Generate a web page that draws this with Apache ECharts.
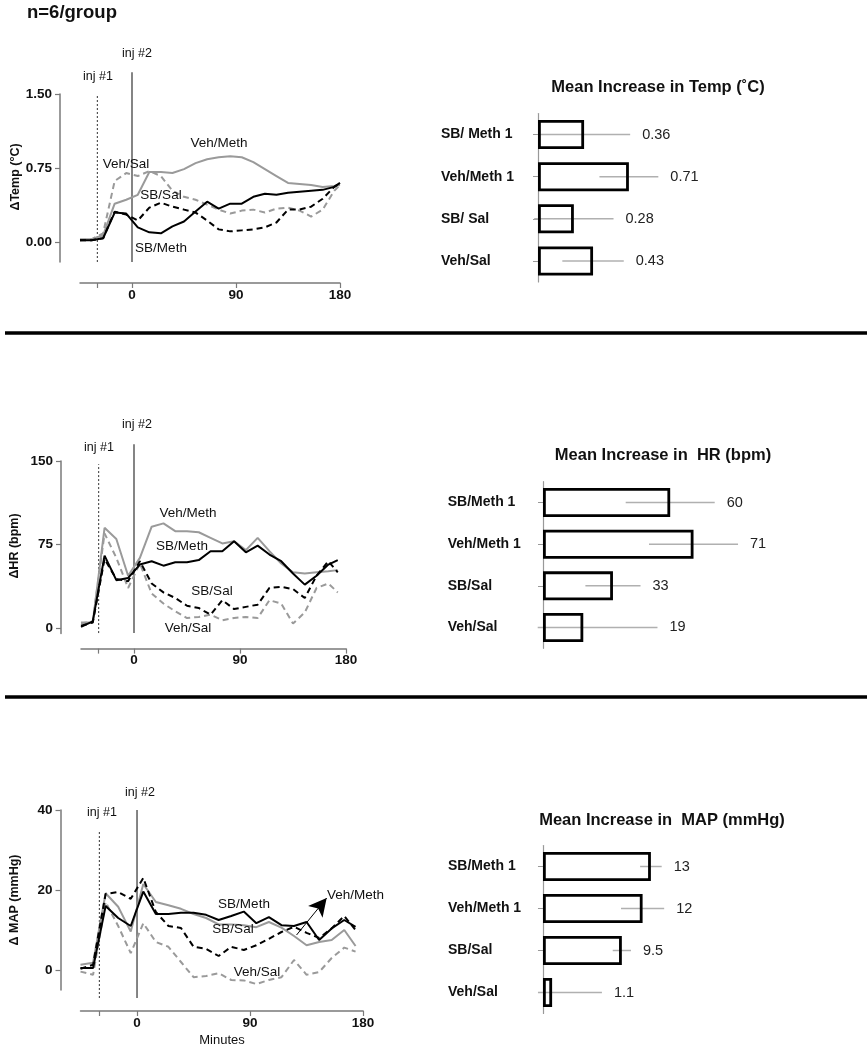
<!DOCTYPE html>
<html><head><meta charset="utf-8">
<script src="https://cdn.jsdelivr.net/npm/echarts@6/dist/echarts.min.js"></script>
<style>html,body{margin:0;padding:0;background:#fff}#c{width:867px;height:1050px}</style>
</head><body><div id="c"></div>
<script>
// ---------------- DATA ----------------
const tempTimes = [-45,-35,-25,-15,-5,5,15,25,35,45,55,65,75,85,95,105,115,125,135,145,155,165,175,180];
const tempSBMeth  = [0.02,0.02,0.04,0.30,0.29,0.15,0.10,0.09,0.16,0.21,0.31,0.41,0.34,0.39,0.39,0.46,0.49,0.48,0.50,0.51,0.52,0.53,0.56,0.60];
const tempVehMeth = [0.03,0.03,0.07,0.39,0.43,0.48,0.71,0.71,0.70,0.74,0.80,0.84,0.86,0.87,0.86,0.81,0.74,0.67,0.60,0.59,0.58,0.56,0.57,0.58];
const tempVehSal  = [0.02,0.03,0.09,0.62,0.70,0.67,0.72,0.67,0.52,0.46,0.43,0.38,0.33,0.29,0.32,0.33,0.30,0.34,0.35,0.32,0.26,0.33,0.52,0.58];
const tempSBSal   = [0.02,0.02,0.04,0.31,0.28,0.22,0.35,0.40,0.36,0.33,0.30,0.22,0.13,0.11,0.12,0.13,0.15,0.20,0.33,0.33,0.36,0.44,0.56,0.60];

const hrTimes = [-45,-35,-25,-15,-5,5,15,25,35,45,55,65,75,85,95,105,115,125,135,145,155,165,173];
const hrSBMeth  = [1,6,65,43,45,57,60,56,59,59,61,69,69,78,68,74,66,60,49,39,47,57,61];
const hrVehMeth = [5,5,90,80,47,63,91,94,87,87,86,81,76,78,70,81,69,58,50,49,50,51,52];
const hrVehSal  = [4,6,85,63,36,58,31,22,15,9,10,12,7,9,10,9,25,22,4,14,36,40,32];
const hrSBSal   = [2,5,62,44,42,60,40,32,27,20,18,12,25,17,19,21,36,37,35,27,47,60,50];

const mapTimes = [-45,-35,-25,-15,-5,5,15,25,35,45,55,65,75,85,95,105,115,125,135,145,155,165,174];
const mapSBMeth  = [0.5,0.5,16,13,11,19.6,14,14,14.3,14.3,13.8,12.5,13.5,14.6,11.7,13.2,11.2,11,12,7.5,10.4,12.5,10.8];
const mapSBSal   = [0.3,1.3,19,19.5,17.8,23,14.5,11,10.5,5.8,5.3,3.5,5.8,5,6.2,7.8,9.5,10.8,9.3,8,10.4,13.5,10];
const mapVehMeth = [1.3,1.8,19.2,15.8,9.6,21.5,17,16.2,15.3,14,13,11.4,11.4,11.2,10.7,12,10.6,8.5,6.2,7,7.5,10,6];
const mapVehSal  = [-0.4,-1.2,17,11,4.2,11.7,7,5.8,2,-1.8,-1.5,-0.8,-2.5,-2.6,-3.5,-2.5,-1.8,2.5,-1.2,-0.5,3,5.6,4.6];

const injTimes = [-30, 0];

const tempCats = ['SB/ Meth 1','Veh/Meth 1','SB/ Sal','Veh/Sal'];
const tempMeans = [0.36,0.71,0.28,0.43];
const tempErrs  = [0.36,0.23,0.31,0.24];

const hrCats = ['SB/Meth 1','Veh/Meth 1','SB/Sal','Veh/Sal'];
const hrMeans = [60,71,33,19];
const hrErrs  = [21,21,13,35];

const mapCats = ['SB/Meth 1','Veh/Meth 1','SB/Sal','Veh/Sal'];
const mapMeans = [13,12,9.5,1.1];
const mapErrs  = [1.3,2.6,1.1,6];

const tempYTicks = [0,0.75,1.5];
const hrYTicks = [0,75,150];
const mapYTicks = [0,20,40];
const xTicks = [-30,0,90,180];
const xLabels = [0,90,180];

// annotation arrow (data coords, MAP panel)
const mapArrow = [[127,8.75],[151,18]];

// ---------------- CHART ----------------
const FONT = '"Liberation Sans", Arial, Helvetica, sans-serif';
const zip = (t, v) => t.map((x, i) => [x, v[i]]);
const BLACK = '#000', GREY = '#9a9a9a', AX = '#7a7a7a';

const chart = echarts.init(document.getElementById('c'));

const lineGrids = [
  {left:80, top:94, width:260, height:168},
  {left:81, top:461, width:265, height:172.6},
  {left:80.5, top:810, width:282.6, height:180}
];
const barGrids = [
  {left:532.9, top:113.5, width:133.1, height:168.5},
  {left:537.7, top:481.7, width:217.3, height:166.6},
  {left:538.0, top:845.5, width:171, height:168}
];

const yRanges = [[-0.2,1.5],[-5,150],[-5,40]];
const yTickSets = [tempYTicks, hrYTicks, mapYTicks];
const yFmt = [v => v.toFixed(2), v => String(v), v => String(v)];
const xOffsets = [21, 15, 21];

const xAxes = [], yAxes = [], series = [];

for (let i = 0; i < 3; i++) {
  xAxes.push({
    type:'value', gridIndex:i, min:-45, max:180, offset:xOffsets[i],
    axisLine:{show:true, onZero:false, lineStyle:{color:AX, width:1.5}},
    axisTick:{show:true, customValues:xTicks, length:5, lineStyle:{color:AX, width:1.2}},
    axisLabel:{customValues:xLabels, fontFamily:FONT, fontWeight:'bold', fontSize:13.5, color:'#111', margin:5},
    splitLine:{show:false}
  });
  yAxes.push({
    type:'value', gridIndex:i, min:yRanges[i][0], max:yRanges[i][1], offset:20,
    axisLine:{show:true, onZero:false, lineStyle:{color:AX, width:1.5}},
    axisTick:{show:true, customValues:yTickSets[i], length:5, lineStyle:{color:AX, width:1.2}},
    axisLabel:{customValues:yTickSets[i], formatter:yFmt[i], fontFamily:FONT, fontWeight:'bold', fontSize:13.5, color:'#111', margin:8},
    splitLine:{show:false}
  });
}

const barRanges = [[-0.04,1.0],[-2.5,100],[-0.6,20]];
const barCats = [tempCats, hrCats, mapCats];
const barMeans = [tempMeans, hrMeans, mapMeans];
const barErrs = [tempErrs, hrErrs, mapErrs];
const labelMargins = [92, 90, 90];

for (let j = 0; j < 3; j++) {
  const gi = 3 + j;
  xAxes.push({type:'value', gridIndex:gi, min:barRanges[j][0], max:barRanges[j][1], show:false});
  yAxes.push({
    type:'category', gridIndex:gi, data:barCats[j], inverse:true,
    axisLine:{show:true, onZero:true, lineStyle:{color:'#999', width:1.2}},
    axisTick:{show:true, alignWithLabel:true, length:5, lineStyle:{color:'#999'}},
    axisLabel:{align:'left', margin:labelMargins[j], fontFamily:FONT, fontWeight:'bold', fontSize:14, color:'#111'}
  });
}

function addLines(gi, times, sbMeth, vehMeth, vehSal, sbSal) {
  series.push({type:'line', xAxisIndex:gi, yAxisIndex:gi, data:zip(times, vehMeth), symbol:'none', lineStyle:{color:GREY, width:2}, z:3});
  series.push({type:'line', xAxisIndex:gi, yAxisIndex:gi, data:zip(times, vehSal), symbol:'none', lineStyle:{color:GREY, width:2, type:[6,4]}, z:3});
  series.push({type:'line', xAxisIndex:gi, yAxisIndex:gi, data:zip(times, sbSal), symbol:'none', lineStyle:{color:BLACK, width:2, type:[6,4]}, z:4});
  series.push({type:'line', xAxisIndex:gi, yAxisIndex:gi, data:zip(times, sbMeth), symbol:'none', lineStyle:{color:BLACK, width:2}, z:5});
}
addLines(0, tempTimes, tempSBMeth, tempVehMeth, tempVehSal, tempSBSal);
addLines(1, hrTimes, hrSBMeth, hrVehMeth, hrVehSal, hrSBSal);
addLines(2, mapTimes, mapSBMeth, mapVehMeth, mapVehSal, mapSBSal);

// injection marker extents per panel: [bottom, top inj1, top inj2]
const injExtents = [[-0.2,1.49,1.72],[-4.5,147,165],[-7,35,40]];
for (let i = 0; i < 3; i++) {
  const e = injExtents[i];
  series.push({type:'line', xAxisIndex:i, yAxisIndex:i, clip:false, symbol:'none', silent:true,
    data:[[injTimes[0], e[0]],[injTimes[0], e[1]]], lineStyle:{color:'#333', width:1, type:[2,2]}, z:2});
  series.push({type:'line', xAxisIndex:i, yAxisIndex:i, clip:false, symbol:'none', silent:true,
    data:[[injTimes[1], e[0]],[injTimes[1], e[2]]], lineStyle:{color:'#333', width:1.2}, z:2});
}

series.push({type:'line', xAxisIndex:2, yAxisIndex:2, data:[], symbol:'none',
  markLine:{silent:true, animation:false, symbol:['none','arrow'], symbolSize:[14,18],
    lineStyle:{color:'#000', width:1, type:'solid'}, label:{show:false},
    data:[[{coord:mapArrow[0]},{coord:mapArrow[1]}]]}});

for (let j = 0; j < 3; j++) {
  const gi = 3 + j;
  const minV = barRanges[j][0];
  series.push({type:'custom', xAxisIndex:gi, yAxisIndex:gi, z:1,
    data: barMeans[j].map((m, k) => [m, k, barErrs[j][k]]),
    renderItem: function(params, api) {
      const m = api.value(0), k = api.value(1), e = api.value(2);
      const lo = Math.max(m - e, minV), hi = m + e;
      const p1 = api.coord([lo, k]), p2 = api.coord([hi, k]);
      return {type:'group', children:[
        {type:'line', shape:{x1:p1[0], y1:p1[1], x2:p2[0], y2:p2[1]}, style:{stroke:'#b0b0b0', lineWidth:1.5}},
        {type:'text', x:p2[0] + 12, y:p1[1], style:{text:String(m), fill:'#222', font:'14.5px ' + FONT,
          textAlign:'left', align:'left', textVerticalAlign:'middle', verticalAlign:'middle'}}
      ]};
    }
  });
  series.push({type:'bar', xAxisIndex:gi, yAxisIndex:gi, data:barMeans[j], barWidth:29, z:3,
    itemStyle:{color:'rgba(255,255,255,0)', borderColor:'#000', borderWidth:2.8}});
}

function txt(text, x, y, opt) {
  opt = opt || {};
  return {type:'text', x:x, y:y, rotation:opt.rot || 0, z:100,
    style:{text:text, fill:opt.color || '#111',
      font:(opt.bold ? 'bold ' : '') + (opt.size || 13.5) + 'px ' + FONT,
      textAlign:opt.align || 'center', align:opt.align || 'center',
      textVerticalAlign:'middle', verticalAlign:'middle'}};
}

const graphics = [
  txt('n=6/group', 27, 13, {bold:true, size:18.5, align:'left'}),
  {type:'line', shape:{x1:5, y1:333, x2:867, y2:333}, style:{stroke:'#000', lineWidth:3.5}},
  {type:'line', shape:{x1:5, y1:697, x2:867, y2:697}, style:{stroke:'#000', lineWidth:3.5}},
  txt('inj #1', 98, 77, {size:12.5}), txt('inj #2', 137, 54, {size:12.5}),
  txt('ΔTemp (°C)', 16, 177, {bold:true, size:12.5, rot:Math.PI/2}),
  txt('Veh/Meth', 219, 143), txt('Veh/Sal', 126, 164), txt('SB/Sal', 161, 195), txt('SB/Meth', 161, 248),
  txt('Mean Increase in Temp (˚C)', 658, 87, {bold:true, size:16.5}),
  txt('inj #1', 99, 448, {size:12.5}), txt('inj #2', 137, 425, {size:12.5}),
  txt('ΔHR (bpm)', 15, 546, {bold:true, size:12.5, rot:Math.PI/2}),
  txt('Veh/Meth', 188, 513), txt('SB/Meth', 182, 546), txt('SB/Sal', 212, 591), txt('Veh/Sal', 188, 628),
  txt('Mean Increase in  HR (bpm)', 663, 455, {bold:true, size:16.5}),
  txt('inj #1', 102, 813, {size:12.5}), txt('inj #2', 140, 793, {size:12.5}),
  txt('Δ MAP (mmHg)', 15, 900, {bold:true, size:12.5, rot:Math.PI/2}),
  txt('SB/Meth', 244, 904), txt('SB/Sal', 233, 929), txt('Veh/Sal', 257, 972), txt('Veh/Meth', 327, 895, {align:'left'}),
  txt('Minutes', 222, 1040, {size:13}),
  txt('Mean Increase in  MAP (mmHg)', 662, 820, {bold:true, size:16.5})
];

chart.setOption({
  animation:false,
  backgroundColor:'#fff',
  textStyle:{fontFamily:FONT},
  grid: lineGrids.concat(barGrids),
  xAxis: xAxes,
  yAxis: yAxes,
  series: series,
  graphic: graphics
});
</script>
</body></html>
